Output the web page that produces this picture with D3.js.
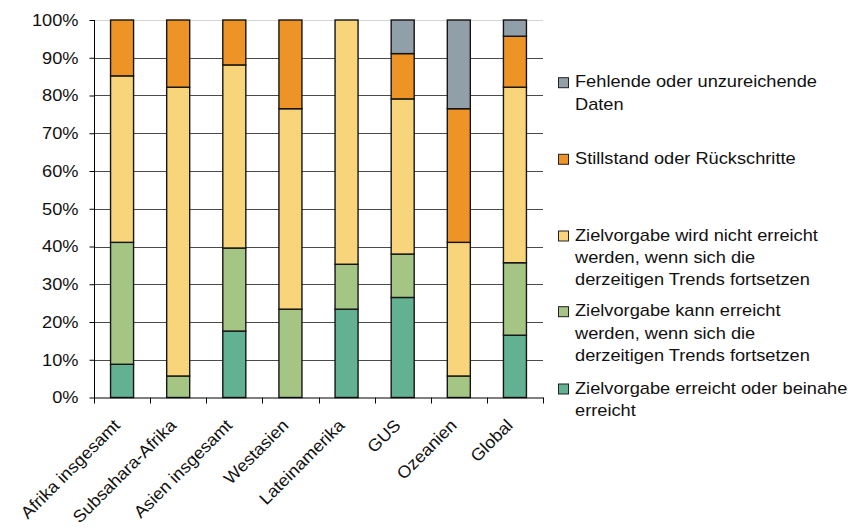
<!DOCTYPE html>
<html>
<head>
<meta charset="utf-8">
<script src="https://cdn.jsdelivr.net/npm/d3@7"></script>
<style>
  html, body { margin: 0; padding: 0; background: #fff; }
  svg { display: block; font-family: "Liberation Sans", Arial, sans-serif; }
</style>
</head>
<body>
<svg id="chart" width="848" height="529"></svg>
<script>
// Regions on the x axis
const categories = ["Afrika insgesamt", "Subsahara-Afrika", "Asien insgesamt", "Westasien",
                    "Lateinamerika", "GUS", "Ozeanien", "Global"];

// Share of indicators per status (percent), stacked bottom to top
const erreicht   = [8.8, 0,    17.6, 0,    23.4, 26.5, 0,    16.5];
const kann       = [32.3, 5.7, 22.0, 23.4, 11.9, 11.5, 5.7,  19.2];
const nicht      = [44.1, 76.5, 48.5, 53.1, 64.7, 41.1, 35.4, 46.5];
const stillstand = [14.8, 17.8, 11.9, 23.5, 0,    12.0, 35.4, 13.5];
const fehlend    = [0,    0,    0,    0,    0,    8.9,  23.5, 4.3];

const yTicks = [0, 10, 20, 30, 40, 50, 60, 70, 80, 90, 100];

const seriesKeys = ["erreicht", "kann", "nicht", "stillstand", "fehlend"];
const seriesValues = { erreicht, kann, nicht, stillstand, fehlend };
const seriesColors = {
  erreicht: "#62b192",
  kann: "#a5c585",
  nicht: "#f8d57b",
  stillstand: "#ee9326",
  fehlend: "#919fa9"
};
// Legend order, top to bottom, each entry split into its lines
const legendItems = [
  { key: "fehlend",    lines: ["Fehlende oder unzureichende", "Daten"], cy: 82.7 },
  { key: "stillstand", lines: ["Stillstand oder Rückschritte"], cy: 159.3 },
  { key: "nicht",      lines: ["Zielvorgabe wird nicht erreicht", "werden, wenn sich die", "derzeitigen Trends fortsetzen"], cy: 236 },
  { key: "kann",       lines: ["Zielvorgabe kann erreicht", "werden, wenn sich die", "derzeitigen Trends fortsetzen"], cy: 311.7 },
  { key: "erreicht",   lines: ["Zielvorgabe erreicht oder beinahe", "erreicht"], cy: 389 }
];

const rows = categories.map((c, i) => {
  const r = { cat: c };
  seriesKeys.forEach(k => r[k] = seriesValues[k][i]);
  return r;
});

// Text is set slightly wide
const FONT = "17px";
const SX = 1.072;
const SX_LABEL = 1.05;

const svg = d3.select("#chart");
const plotLeft = 94, plotRight = 543, plotTop = 20, plotBottom = 397.5;

const x = d3.scaleBand().domain(categories).range([plotLeft, plotRight])
  .paddingInner(0.59).paddingOuter(0.295);
const y = d3.scaleLinear().domain([0, 100]).range([plotBottom, plotTop]);

// Horizontal gridlines
svg.append("g").selectAll("line").data(yTicks.filter(t => t > 0)).join("line")
  .attr("x1", plotLeft).attr("x2", plotRight)
  .attr("y1", d => Math.round(y(d)) + 0.5).attr("y2", d => Math.round(y(d)) + 0.5)
  .attr("stroke", d => d === 100 ? "#d4d4d4" : "#4a4a4a")
  .attr("stroke-width", 1);

// Stacked bars
const stack = d3.stack().keys(seriesKeys)(rows);
svg.append("g").selectAll("g").data(stack).join("g")
  .attr("fill", s => seriesColors[s.key])
  .selectAll("rect").data(s => s.filter(d => d[1] - d[0] > 0)).join("rect")
  .attr("x", d => x(d.data.cat))
  .attr("width", x.bandwidth())
  .attr("y", d => y(d[1]))
  .attr("height", d => y(d[0]) - y(d[1]))
  .attr("stroke", "#151515")
  .attr("stroke-width", 1.4);

// Y axis
const yAxis = d3.axisLeft(y).tickValues(yTicks).tickFormat(d => d + "%").tickSize(5).tickPadding(11);
const gy = svg.append("g").attr("transform", `translate(${plotLeft + 0.5},0)`).call(yAxis);
gy.select(".domain").attr("stroke", "#000").attr("d", `M0,${plotTop}V${plotBottom}`);
gy.selectAll(".tick line").attr("stroke", "#000");
gy.selectAll(".tick text")
  .attr("fill", "#111")
  .attr("transform", `translate(-16,0) scale(${SX},1)`)
  .attr("x", 0)
  .style("font-size", FONT)
  .style("font-family", "'Liberation Sans', Arial, sans-serif");

// X axis: ticks between categories
const step = x.step();
const boundaries = d3.range(categories.length + 1).map(i => plotLeft + i * step);
svg.append("line").attr("x1", plotLeft).attr("x2", plotRight + 0.5)
  .attr("y1", plotBottom + 0.5).attr("y2", plotBottom + 0.5).attr("stroke", "#000");
svg.append("g").selectAll("line").data(boundaries).join("line")
  .attr("x1", d => Math.round(d) + 0.5).attr("x2", d => Math.round(d) + 0.5)
  .attr("y1", plotBottom).attr("y2", plotBottom + 6).attr("stroke", "#000");

// Category labels, slanted at 45 degrees
svg.append("g").selectAll("text").data(categories).join("text")
  .attr("transform", d => `translate(${x(d) + x.bandwidth() / 2 - 1},426.5) rotate(-45) scale(${SX_LABEL},1)`)
  .attr("text-anchor", "end")
  .attr("fill", "#111")
  .style("font-size", FONT)
  .text(d => d);

// Legend
const lg = svg.append("g");
legendItems.forEach(item => {
  lg.append("rect")
    .attr("x", 558.5).attr("y", item.cy - 5)
    .attr("width", 10).attr("height", 10)
    .attr("fill", seriesColors[item.key])
    .attr("stroke", "#222").attr("stroke-width", 1);
  const t = lg.append("text")
    .attr("transform", `translate(575,${item.cy + 4.5}) scale(${SX},1)`)
    .attr("fill", "#111").style("font-size", FONT);
  item.lines.forEach((ln, i) => {
    t.append("tspan").attr("x", 0).attr("dy", i === 0 ? 0 : 22.5).text(ln);
  });
});
</script>
</body>
</html>
